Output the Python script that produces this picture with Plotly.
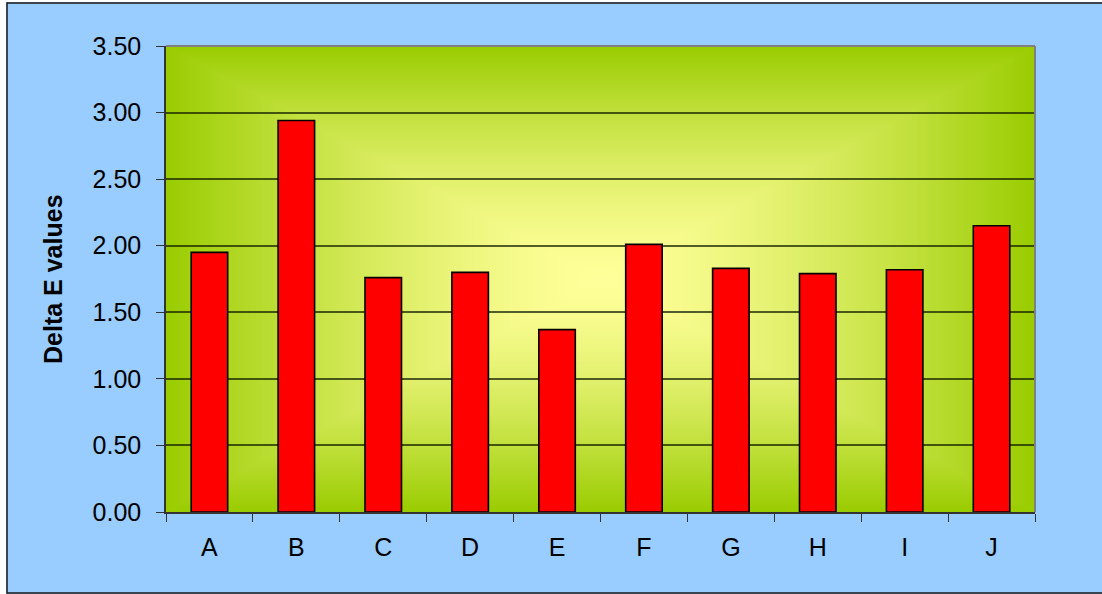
import base64
import struct
import zlib

import numpy as np
import plotly.graph_objects as go

# Chart values
categories = ["A", "B", "C", "D", "E", "F", "G", "H", "I", "J"]
delta_e = [1.95, 2.94, 1.76, 1.80, 1.37, 2.01, 1.83, 1.79, 1.82, 2.15]
y_ticks = [0.0, 0.5, 1.0, 1.5, 2.0, 2.5, 3.0, 3.5]

# Figure geometry (pixels)
W, H = 1102, 594
ML, MR, MT, MB = 166, 67, 46, 82
PW, PH = W - ML - MR, H - MT - MB

FONT = "Liberation Sans, Arial, sans-serif"


def px_x(px):
    return (px - ML) / PW


def px_y(py):
    return (H - MB - py) / PH


def gradient_png(w, h, inner=(255, 255, 153), outer=(153, 204, 0), power=1.45):
    """Rectangular 'from centre' gradient as a PNG data URI."""
    xs = np.abs((np.arange(w) + 0.5) - w / 2) / (w / 2)
    ys = np.abs((np.arange(h) + 0.5) - h / 2) / (h / 2)
    t = np.maximum(xs[None, :], ys[:, None])
    t = np.clip(t, 0, 1) ** power
    inner = np.array(inner, dtype=float)
    outer = np.array(outer, dtype=float)
    img = inner[None, None, :] + (outer - inner)[None, None, :] * t[:, :, None]
    img = np.clip(np.round(img), 0, 255).astype(np.uint8)
    raw = b"".join(b"\x00" + img[r].tobytes() for r in range(h))

    def chunk(tag, data):
        c = struct.pack(">I", len(data)) + tag + data
        return c + struct.pack(">I", zlib.crc32(tag + data) & 0xFFFFFFFF)

    png = b"\x89PNG\r\n\x1a\n"
    png += chunk(b"IHDR", struct.pack(">IIBBBBB", w, h, 8, 2, 0, 0, 0))
    png += chunk(b"IDAT", zlib.compress(raw, 9))
    png += chunk(b"IEND", b"")
    return "data:image/png;base64," + base64.b64encode(png).decode()


fig = go.Figure()

fig.add_trace(
    go.Bar(
        x=categories,
        y=delta_e,
        marker=dict(color="#FF0000", line=dict(color="#000000", width=1.6)),
        width=0.42,
        hoverinfo="x+y",
    )
)

fig.update_layout(
    width=W,
    height=H,
    margin=dict(l=ML, r=MR, t=MT, b=MB, pad=0),
    paper_bgcolor="#99CCFF",
    plot_bgcolor="rgba(0,0,0,0)",
    showlegend=False,
    font=dict(family=FONT, size=25, color="#000000"),
    images=[
        dict(
            source=gradient_png(PW, PH),
            xref="paper",
            yref="paper",
            x=0,
            y=1,
            sizex=1,
            sizey=1,
            xanchor="left",
            yanchor="top",
            sizing="stretch",
            layer="below",
        )
    ],
    shapes=[
        # white margin strips outside the chart frame
        dict(type="rect", xref="paper", yref="paper", layer="below",
             x0=px_x(-5), x1=px_x(6), y0=px_y(-5), y1=px_y(H + 5),
             fillcolor="#FFFFFF", line=dict(width=0)),
        dict(type="rect", xref="paper", yref="paper", layer="below",
             x0=px_x(-5), x1=px_x(W + 5), y0=px_y(-5), y1=px_y(2),
             fillcolor="#FFFFFF", line=dict(width=0)),
        # chart frame
        dict(type="rect", xref="paper", yref="paper", layer="below",
             x0=px_x(7), x1=px_x(W + 10), y0=px_y(3), y1=px_y(593),
             fillcolor="rgba(0,0,0,0)", line=dict(color="#1A1A1A", width=1.5)),
        # plot-area border, top and right
        dict(type="line", xref="paper", yref="paper", layer="above",
             x0=0, x1=1, y0=1, y1=1, line=dict(color="#808080", width=2)),
        dict(type="line", xref="paper", yref="paper", layer="above",
             x0=1, x1=1, y0=0, y1=1, line=dict(color="#808080", width=2)),
    ],
    annotations=[
        dict(
            text="<b>Delta E values</b>",
            xref="paper",
            yref="paper",
            x=px_x(53),
            y=0.5,
            xanchor="center",
            yanchor="middle",
            textangle=-90,
            showarrow=False,
            font=dict(family=FONT, size=25, color="#000000"),
        )
    ],
)

fig.update_xaxes(
    type="category",
    categoryorder="array",
    categoryarray=categories,
    range=[-0.5, len(categories) - 0.5],
    showgrid=False,
    showline=True,
    linecolor="#333333",
    linewidth=1.5,
    ticks="outside",
    tickson="boundaries",
    ticklen=8,
    tickwidth=1.2,
    tickcolor="#333333",
    ticklabelstandoff=12,
    tickfont=dict(family=FONT, size=25, color="#000000"),
    fixedrange=True,
)

fig.update_yaxes(
    range=[0, 3.5],
    tickvals=y_ticks,
    ticktext=[f"{v:.2f}" for v in y_ticks],
    showgrid=True,
    gridcolor="rgba(20,30,0,0.72)",
    gridwidth=1.6,
    zeroline=False,
    showline=True,
    linecolor="#333333",
    linewidth=1.5,
    ticks="outside",
    ticklen=8,
    tickwidth=1.2,
    tickcolor="#333333",
    ticklabelstandoff=10,
    tickfont=dict(family=FONT, size=25, color="#000000"),
    fixedrange=True,
)

fig.write_html("out.html")
